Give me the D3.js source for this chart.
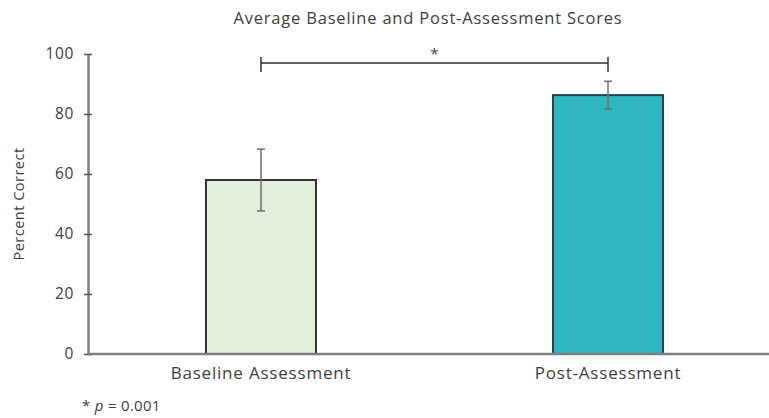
<!DOCTYPE html>
<html>
<head>
<meta charset="utf-8">
<script src="https://cdn.jsdelivr.net/npm/d3@7"></script>
<style>
  body { margin: 0; background: #fff; }
  svg text { font-family: "Open Sans", "Noto Sans", sans-serif; fill: #404040; }
</style>
</head>
<body>
<div id="chart"></div>
<script>
// Chart data
const categories = ['Baseline Assessment', 'Post-Assessment'];
const means = [58, 86.3];
const errors = [10.3, 4.6];
const yTicks = [0, 20, 40, 60, 80, 100];
const barColors = ['#e2efda', '#2fb6c0'];

const width = 769, height = 418;
const margin = { top: 54, right: 0, bottom: 64, left: 88 };
const innerW = width - margin.left - margin.right;
const innerH = height - margin.top - margin.bottom;

const svg = d3.select('#chart')
  .append('svg')
  .attr('width', width)
  .attr('height', height);

const g = svg.append('g')
  .attr('transform', `translate(${margin.left},${margin.top})`);

// Scales
const x = d3.scaleBand()
  .domain(categories)
  .range([0, 693])
  .paddingInner(0.683)
  .paddingOuter(0.34);

const y = d3.scaleLinear()
  .domain([0, 100])
  .range([innerH, 0]);

// Bars
g.selectAll('.bar')
  .data(categories)
  .enter()
  .append('rect')
  .attr('class', 'bar')
  .attr('x', d => x(d))
  .attr('y', (d, i) => y(means[i]))
  .attr('width', x.bandwidth())
  .attr('height', (d, i) => innerH - y(means[i]))
  .attr('fill', (d, i) => barColors[i])
  .attr('stroke', (d, i) => i === 0 ? '#333' : '#1f4650')
  .attr('stroke-width', 2);

// Error bars
const cx = d => x(d) + x.bandwidth() / 2;
categories.forEach((c, i) => {
  const eb = g.append('g').attr('stroke', '#707070').attr('stroke-width', 1.5);
  eb.append('line')
    .attr('x1', cx(c)).attr('x2', cx(c))
    .attr('y1', y(means[i] + errors[i])).attr('y2', y(means[i] - errors[i]));
  [means[i] + errors[i], means[i] - errors[i]].forEach(v => {
    eb.append('line')
      .attr('x1', cx(c) - 4).attr('x2', cx(c) + 4)
      .attr('y1', y(v)).attr('y2', y(v));
  });
});

// Y axis
const yAxis = g.append('g')
  .call(d3.axisLeft(y).tickValues(yTicks).tickSize(0).tickPadding(14));
yAxis.select('.domain').attr('stroke', '#7f7f7f').attr('stroke-width', 2.5);
yAxis.selectAll('.tick line').remove();
yAxis.selectAll('.tick')
  .append('line')
  .attr('x1', -4).attr('x2', 4)
  .attr('stroke', '#555').attr('stroke-width', 1.5);
yAxis.selectAll('.tick text')
  .style('font-size', '15.5px')
  .style('letter-spacing', '0.6px')
  .style('fill', '#404040');

// X axis
const xAxis = g.append('g')
  .attr('transform', `translate(0,${innerH})`)
  .call(d3.axisBottom(x).tickSize(0).tickPadding(13));
xAxis.select('.domain')
  .attr('d', `M0,0H${innerW}`)
  .attr('stroke', '#7f7f7f').attr('stroke-width', 2.5);
xAxis.selectAll('.tick text')
  .style('font-size', '17px')
  .style('letter-spacing', '0.8px')
  .style('fill', '#404040');

// Significance bracket
const bY = y(97);
const br = g.append('g').attr('stroke', '#333').attr('stroke-width', 1.5).attr('fill', 'none');
br.append('path')
  .attr('d', `M${cx(categories[0])},${y(99)}V${y(94)}M${cx(categories[0])},${bY}H${cx(categories[1])}M${cx(categories[1])},${y(99)}V${y(94)}`);
g.append('text')
  .attr('x', (cx(categories[0]) + cx(categories[1])) / 2)
  .attr('y', y(98.5))
  .attr('text-anchor', 'middle')
  .style('font-size', '15px')
  .text('*');

// Title
svg.append('text')
  .attr('x', 428)
  .attr('y', 24)
  .attr('text-anchor', 'middle')
  .style('font-size', '16.5px')
  .style('letter-spacing', '0.8px')
  .text('Average Baseline and Post-Assessment Scores');

// Y axis title
svg.append('text')
  .attr('transform', `translate(24,${margin.top + 150}) rotate(-90)`)
  .attr('text-anchor', 'middle')
  .style('font-size', '14.5px')
  .style('letter-spacing', '0.5px')
  .text('Percent Correct');

// Footnote
const fn = svg.append('text')
  .attr('x', 82)
  .attr('y', 411)
  .style('font-size', '15px')
  .style('letter-spacing', '0.3px');
fn.append('tspan').text('* ');
fn.append('tspan').style('font-style', 'italic').text('p');
fn.append('tspan').text(' = 0.001');
</script>
</body>
</html>
